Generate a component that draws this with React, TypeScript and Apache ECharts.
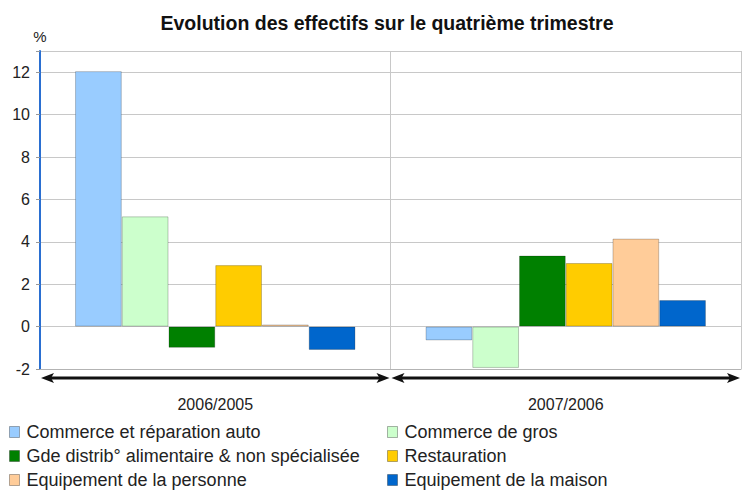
import React, { useEffect, useRef } from "react";
import * as echarts from "echarts";

const categories = ["2006/2005", "2007/2006"];
const seriesNames = [
  "Commerce et réparation auto",
  "Commerce de gros",
  "Gde distrib° alimentaire & non spécialisée",
  "Restauration",
  "Equipement de la personne",
  "Equipement de la maison",
];
const seriesColors = ["#99ccff", "#ccffcc", "#008000", "#ffcc00", "#ffcc99", "#0066cc"];
const autoValues = [12.05, -0.65];
const grosValues = [5.2, -1.95];
const distribValues = [-1.0, 3.35];
const restaurationValues = [2.9, 3.0];
const personneValues = [0.1, 4.15];
const maisonValues = [-1.1, 1.25];
const seriesValues = [autoValues, grosValues, distribValues, restaurationValues, personneValues, maisonValues];
const yMin = -2;
const yMax = 13;
const yInterval = 2;

const FONT = "Liberation Sans, Arial, sans-serif";

export default function App() {
  const ref = useRef<HTMLDivElement>(null);
  useEffect(() => {
    if (!ref.current) return;
    const chart = echarts.init(ref.current, undefined, { renderer: "svg" });
    const bars = seriesNames.map((name, i) => ({
      name,
      type: "bar",
      data: seriesValues[i],
      barGap: "0%",
      barCategoryGap: "20%",
      itemStyle: { color: seriesColors[i], borderColor: "rgba(0,0,0,0.22)", borderWidth: 1 },
    }));
    const arrowSeries = {
      type: "custom",
      name: "arrows",
      clip: false,
      silent: true,
      z: 10,
      encode: { x: 0, y: 1 },
      data: categories.map((_, i) => [i, yMin]),
      renderItem: (params: any, api: any) => {
        const idx = api.value(0);
        const c = api.coord([idx, api.value(1)]);
        const w = api.size([1, 0])[0];
        const x0 = c[0] - w / 2 + 1;
        const x1 = c[0] + w / 2 - 1;
        const y = c[1] + 9;
        return {
          type: "group",
          children: [
            { type: "line", shape: { x1: x0 + 8, y1: y, x2: x1 - 8, y2: y }, style: { stroke: "#111", lineWidth: 3 } },
            { type: "polygon", shape: { points: [[x0, y], [x0 + 13, y - 5], [x0 + 10, y], [x0 + 13, y + 5]] }, style: { fill: "#111" } },
            { type: "polygon", shape: { points: [[x1, y], [x1 - 13, y - 5], [x1 - 10, y], [x1 - 13, y + 5]] }, style: { fill: "#111" } },
          ],
        };
      },
    };
    const legendCommon = {
      orient: "vertical",
      top: 423,
      itemWidth: 10,
      itemHeight: 11,
      itemGap: 6,
      icon: "rect",
      itemStyle: { borderColor: "rgba(0,0,0,0.3)", borderWidth: 1 },
      textStyle: { fontFamily: FONT, fontSize: 18, color: "#222", lineHeight: 18, padding: [0, 0, 0, 2] },
      selectedMode: false,
      padding: 0,
    };
    chart.setOption({
      animation: false,
      title: {
        text: "Evolution des effectifs sur le quatrième trimestre",
        left: 382,
        textAlign: "center",
        top: 8,
        textStyle: { fontFamily: FONT, fontSize: 19.5, fontWeight: "bold", color: "#111" },
      },
      legend: [
        { ...legendCommon, left: 9, data: [seriesNames[0], seriesNames[2], seriesNames[4]] },
        { ...legendCommon, left: 387, data: [seriesNames[1], seriesNames[3], seriesNames[5]] },
      ],
      grid: { left: 40, right: 2, top: 51, bottom: 121 },
      xAxis: {
        type: "category",
        data: categories,
        axisLine: { onZero: false, lineStyle: { color: "#b3b3b3", width: 1 } },
        axisTick: { show: false },
        splitLine: { show: true, lineStyle: { color: "#c8c8c8" } },
        axisLabel: { margin: 27, fontFamily: FONT, fontSize: 16, color: "#222" },
      },
      yAxis: {
        type: "value",
        min: yMin,
        max: yMax,
        interval: yInterval,
        name: "%",
        nameGap: 7,
        nameTextStyle: { fontFamily: FONT, fontSize: 15, color: "#222", align: "center" },
        axisLine: { show: true, lineStyle: { color: "#2a6fd1", width: 2 } },
        axisTick: { show: true, length: 4, lineStyle: { color: "#999" } },
        splitLine: { show: true, lineStyle: { color: "#c8c8c8" } },
        axisLabel: {
          margin: 10,
          fontFamily: FONT,
          fontSize: 16,
          color: "#222",
          formatter: (v: number) => (v === yMax ? "" : String(v)),
        },
      },
      series: [...bars, arrowSeries],
    });
    return () => chart.dispose();
  }, []);
  return <div ref={ref} style={{ width: 743, height: 490, position: "absolute", left: 0, top: 0 }} />;
}
